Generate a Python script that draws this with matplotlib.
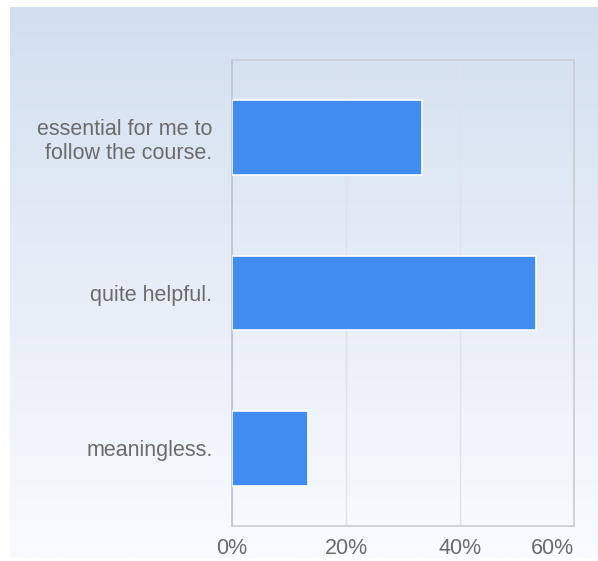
import matplotlib.pyplot as plt
import numpy as np

plt.rcParams['font.family'] = ['Liberation Sans', 'DejaVu Sans']

# survey answers, top to bottom
labels = ['essential for me to\nfollow the course.', 'quite helpful.', 'meaningless.']
shares = [33.3, 53.3, 13.3]
ticks = [0, 20, 40, 60]
tick_labels = ['0%', '20%', '40%', '60%']

W, H = 598, 561
fig = plt.figure(figsize=(W / 100, H / 100), dpi=100)

# gradient backdrop panel
bg = fig.add_axes([10 / W, 1 - 558 / H, 588 / W, 551 / H])
top = np.array([0xd3, 0xdf, 0xf0]) / 255
bot = np.array([0xf9, 0xfb, 0xfe]) / 255
t = np.linspace(0, 1, 256)[:, None]
grad = top[None, :] * (1 - t) + bot[None, :] * t
bg.imshow(grad[:, None, :], aspect='auto', extent=[0, 1, 0, 1])
bg.axis('off')

ax = fig.add_axes([232 / W, 1 - 526 / H, 342 / W, 466 / H])
ax.patch.set_alpha(0)
y = np.arange(len(labels))
ax.barh(y, shares, height=0.48, color='#418cf0', edgecolor='white', linewidth=1.2, zorder=3)
ax.set_ylim(len(labels) - 0.5, -0.5)
ax.set_xlim(0, 60)
ax.set_xticks(ticks)
ax.set_xticklabels(tick_labels)
# keep the last label inside the plot edge
ax.get_xticklabels()[-1].set_horizontalalignment('right')
ax.set_yticks(y)
ax.set_yticklabels(labels, ha='right', linespacing=1.2)
ax.tick_params(axis='both', length=0, colors='#6b6b6b', labelsize=15.5)
ax.tick_params(axis='x', pad=9)
ax.tick_params(axis='y', pad=14)
ax.grid(axis='x', color='#dfe2e8', linewidth=1, zorder=0)
for s in ax.spines.values():
    s.set_color('#c8ccd4')
    s.set_linewidth(1.2)
ax.spines['left'].set_color('#bcc3d0')

fig.savefig('out.png', dpi=100)
